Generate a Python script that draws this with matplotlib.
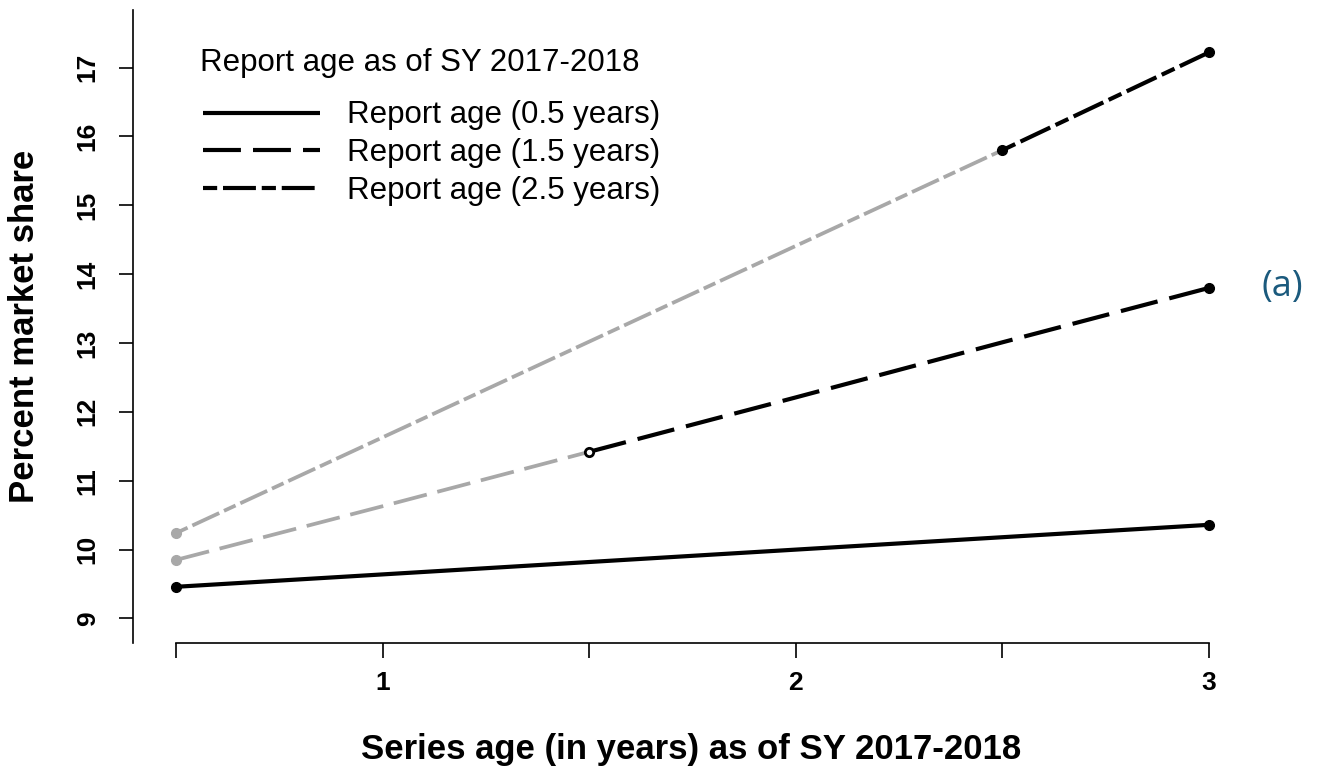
import matplotlib
matplotlib.use("Agg")
import matplotlib.pyplot as plt

plt.rcParams['font.family'] = ['Liberation Sans', 'DejaVu Sans']

# ---- data ----
series_age = [0.5, 1.0, 1.5, 2.0, 2.5, 3.0]
share_05 = [9.46, 9.64, 9.82, 10.00, 10.18, 10.36]
share_15 = [9.85, 10.63, 11.42, 12.21, 13.01, 13.80]
share_25 = [10.24, 11.63, 13.02, 14.41, 15.80, 17.22]
report_ages = [0.5, 1.5, 2.5]
labels = ["Report age (0.5 years)", "Report age (1.5 years)", "Report age (2.5 years)"]
legend_title = "Report age as of SY 2017-2018"
yticks = [9, 10, 11, 12, 13, 14, 15, 16, 17]
xticks = [0.5, 1.0, 1.5, 2.0, 2.5, 3.0]
xticklabels = ["", "1", "", "2", "", "3"]

W, H = 1320, 774
fig = plt.figure(figsize=(W / 100, H / 100), dpi=100)
AX_L, AX_R, AX_TOP, AX_BOT = 133, 1240, 10, 643
ax = fig.add_axes([AX_L / W, (H - AX_BOT) / H, (AX_R - AX_L) / W, (AX_BOT - AX_TOP) / H])
ax.set_xlim(0.3959, 3.075)
ax.set_ylim(8.644, 17.835)

GRAY = '#a8a8a8'
LW = 3.0
ls_dash = (0, (9.1, 2.9))
ls_twodash = (0, (3.4, 1.4, 7.9, 1.4))
ms = 7

def split(xs, ys, at):
    i = xs.index(at)
    return (xs[:i + 1], ys[:i + 1]), (xs[i:], ys[i:])

# solid series (0.5 years): all black
ax.plot(series_age, share_05, color='black', lw=LW, solid_capstyle='butt',
        label=labels[0], zorder=3)
ax.plot([series_age[0], series_age[-1]], [share_05[0], share_05[-1]], 'o',
        color='black', ms=ms, zorder=4)

# 1.5 years
(gx, gy), (bx, by) = split(series_age, share_15, report_ages[1])
ax.plot(gx, gy, color=GRAY, lw=LW * 0.9, ls=ls_dash, zorder=2)
ax.plot(gx[0], gy[0], 'o', color=GRAY, ms=ms, zorder=2)
ax.plot(bx, by, color='black', lw=LW, ls=ls_dash, label=labels[1], zorder=3)
ax.plot(bx[0], by[0], 'o', mfc='white', mec='black', mew=2, ms=ms - 1, zorder=4)
ax.plot(bx[-1], by[-1], 'o', color='black', ms=ms, zorder=4)

# 2.5 years
(gx, gy), (bx, by) = split(series_age, share_25, report_ages[2])
ax.plot(gx, gy, color=GRAY, lw=LW * 0.9, ls=ls_twodash, zorder=2)
ax.plot(gx[0], gy[0], 'o', color=GRAY, ms=ms, zorder=2)
ax.plot(bx, by, color='black', lw=LW, ls=ls_twodash, label=labels[2], zorder=3)
ax.plot([bx[0], bx[-1]], [by[0], by[-1]], 'o', color='black', ms=ms, zorder=4)

# axes styling (R-like)
for s in ['top', 'right']:
    ax.spines[s].set_visible(False)
ax.spines['bottom'].set_bounds(0.5, 3.0)
for s in ['left', 'bottom']:
    ax.spines[s].set_linewidth(1.2)
ax.set_xticks(xticks)
ax.set_xticklabels(xticklabels, fontsize=19, fontweight='bold')
ax.set_yticks(yticks)
ax.set_yticklabels([str(v) for v in yticks], fontsize=19, fontweight='bold',
                   rotation=90, va='center')
ax.tick_params(axis='x', length=11, width=1.2, pad=9)
ax.tick_params(axis='y', length=10, width=1.2, pad=14)

fig.text(691 / W, 1 - 750 / H, "Series age (in years) as of SY 2017-2018",
         fontsize=25, fontweight='bold', ha='center', va='center')
fig.text(25 / W, 1 - 326 / H, "Percent market share", fontsize=25,
         fontweight='bold', ha='center', va='center', rotation=90)

# legend
fig.text(200 / W, 1 - 63 / H, legend_title, fontsize=22.5, ha='left', va='center')
leg = ax.legend(loc='upper left', frameon=False,
                fontsize=22.5, handlelength=3.74, handletextpad=0.86,
                labelspacing=0.25, borderaxespad=0,
                bbox_to_anchor=((190.5 - AX_L) / (AX_R - AX_L),
                                1 - (88 - AX_TOP) / (AX_BOT - AX_TOP)))

fig.text(1282 / W, 1 - 287 / H, "(a)", fontsize=26, color='#1b5a7d',
         family='Open Sans', ha='center', va='center')

fig.savefig("out.png", dpi=100)
